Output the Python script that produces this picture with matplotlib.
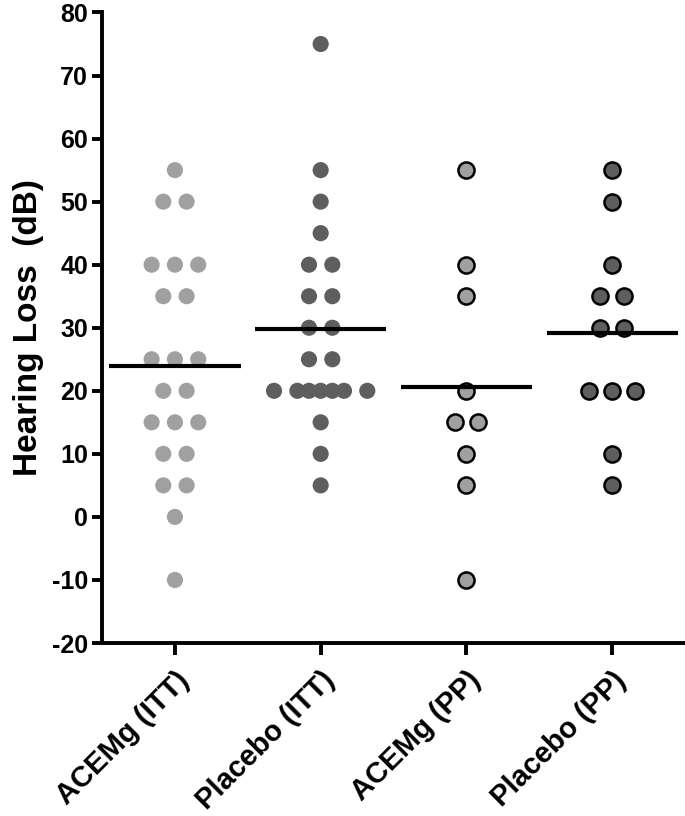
import numpy as np
import matplotlib
matplotlib.use("Agg")
import matplotlib.pyplot as plt
from matplotlib.transforms import ScaledTranslation

plt.rcParams['font.family'] = ['Liberation Sans', 'DejaVu Sans']
plt.rcParams['font.weight'] = 'bold'
plt.rcParams['axes.unicode_minus'] = False

groups = ['ACEMg (ITT)', 'Placebo (ITT)', 'ACEMg (PP)', 'Placebo (PP)']

acemg_itt = [55, 50, 50, 40, 40, 40, 35, 35, 25, 25, 25, 20, 20,
             15, 15, 15, 10, 10, 5, 5, 0, -10]
placebo_itt = [75, 55, 50, 45, 40, 40, 35, 35, 30, 30, 25, 25,
               20, 20, 20, 20, 20, 20, 20, 15, 10, 5]
acemg_pp = [55, 40, 35, 20, 15, 15, 10, 5, -10]
placebo_pp = [55, 50, 40, 35, 35, 30, 30, 20, 20, 20, 10, 5]

series = [acemg_itt, placebo_itt, acemg_pp, placebo_pp]
face_colors = ['#A0A0A3', '#5E5E5E', '#A0A0A3', '#5E5E5E']
edge_colors = ['none', 'none', 'black', 'black']

# horizontal spread of tied values (in steps)
patterns = {1: [0], 2: [-1, 1], 3: [-2, 0, 2], 7: [-4, -2, -1, 0, 1, 2, 4]}
step = 0.08


def spread(values, center):
    xs, ys = [], []
    for v in sorted(set(values), reverse=True):
        n = values.count(v)
        offs = patterns.get(n, list(np.arange(n) * 2 - (n - 1)))
        for o in offs:
            xs.append(center + o * step)
            ys.append(v)
    return xs, ys


fig = plt.figure(figsize=(6.85, 8.16), dpi=100)
ax = fig.add_axes([0.149, 0.212, 0.851, 0.7727])

for i, vals in enumerate(series):
    pos = i + 1
    xs, ys = spread(vals, pos)
    ax.scatter(xs, ys, s=135, c=face_colors[i], edgecolors=edge_colors[i],
               linewidths=1.8, zorder=3)
    ax.plot([pos - 0.45, pos + 0.45], [np.mean(vals)] * 2, color='black',
            lw=3, zorder=4, solid_capstyle='butt')

ax.set_xlim(0.5, 4.5)
ax.set_ylim(-20, 80)
ax.set_yticks(np.arange(-20, 81, 10))
ax.set_xticks(range(1, 5))
ax.set_xticklabels(groups, rotation=45, ha='right', rotation_mode='anchor',
                   fontsize=21, fontweight='bold')
shift = ScaledTranslation(-5 / 100, 0, fig.dpi_scale_trans)
for lab in ax.get_xticklabels():
    lab.set_transform(lab.get_transform() + shift)
ax.tick_params(axis='y', labelsize=18, width=2.8, length=7, pad=3)
ax.tick_params(axis='x', width=2.8, length=8.5, pad=8)
for lab in ax.get_yticklabels():
    lab.set_fontweight('bold')

ax.spines['top'].set_visible(False)
ax.spines['right'].set_visible(False)
ax.spines['left'].set_linewidth(2.8)
ax.spines['bottom'].set_linewidth(2.8)

ax.set_ylabel('Hearing Loss  (dB)', fontsize=24, fontweight='bold', labelpad=6)

fig.savefig('out.png', dpi=100)
